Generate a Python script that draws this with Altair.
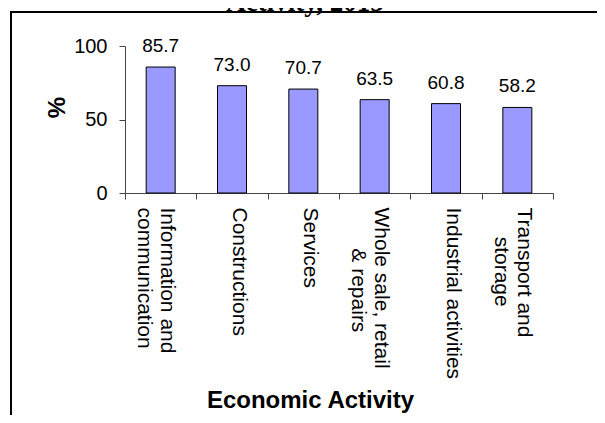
import altair as alt
import pandas as pd

NB = "\u00a0"
ZW = "\u200b"
categories = [
    "Information and\ncommunication",
    "Constructions",
    "Services",
    "Whole sale, retail\n" + ZW + NB * 7 + "& repairs",
    "Industrial activities",
    "Transport and\n" + ZW + NB * 5 + "storage",
]
values = [85.7, 73.0, 70.7, 63.5, 60.8, 58.2]
value_labels = ["85.7", "73.0", "70.7", "63.5", "60.8", "58.2"]
chart_title = ["Activity, 2015"]

df = pd.DataFrame({"activity": categories, "pct": values, "label": value_labels})
frame_df = pd.DataFrame({"frame": [0]})
title_df = pd.DataFrame({"title": chart_title})

SANS = "Liberation Sans"

x = alt.X(
    "activity:N",
    sort=None,
    scale=alt.Scale(paddingInner=0, paddingOuter=0),
    axis=alt.Axis(
        title="Economic Activity",
        labelAngle=90,
        labelAlign="left",
        labelBaseline="middle",
        labelExpr="split(datum.label, '\\n')",
        labelFont=SANS,
        labelFontSize=21,
        labelLineHeight=23,
        labelPadding=8,
        labelOffset=6,
        labelColor="black",
        labelLimit=0,
        labelOverlap=False,
        tickBand="extent",
        tickSize=6,
        tickColor="#444",
        domainColor="#444",
        titleFont=SANS,
        titleFontSize=24,
        titleFontWeight="bold",
        titleColor="black",
        titleX=185,
        titleY=214,
        titleAlign="center",
        titleBaseline="alphabetic",
    ),
)

y = alt.Y(
    "pct:Q",
    scale=alt.Scale(domain=[0, 100]),
    axis=alt.Axis(
        values=[0, 50, 100],
        grid=False,
        title="%",
        tickSize=6,
        tickColor="#444",
        domainColor="#444",
        labelPadding=12,
        labelFont=SANS,
        labelFontSize=20,
        labelColor="black",
        titleFont=SANS,
        titleFontSize=24,
        titleFontWeight="bold",
        titleColor="black",
        titleX=-68,
        titleY=61,
        titleAngle=270,
        titleAlign="center",
        titleBaseline="middle",
    ),
)

bars = alt.Chart(df).mark_bar(size=29, color="#9999FF", stroke="black", strokeWidth=1).encode(x=x, y=y)
texts = alt.Chart(df).mark_text(dy=-15, baseline="alphabetic", fontSize=19, font=SANS, color="black").encode(
    x=alt.X("activity:N", sort=None), y="pct:Q", text="label:N"
)
border = alt.Chart(frame_df).mark_rect(filled=False, stroke="black", strokeWidth=2).encode(
    x=alt.value(-114), y=alt.value(-34), x2=alt.value(490), y2=alt.value(400)
)
title = alt.Chart(title_df).mark_text(
    font="Liberation Serif", fontSize=27, fontWeight="bold", align="center", baseline="alphabetic", color="black"
).encode(x=alt.value(180), y=alt.value(-35), text="title:N")

chart = (
    alt.layer(border, bars, texts, title)
    .properties(
        width=428,
        height=147,
        autosize=alt.AutoSizeParams(type="none"),
        padding={"left": 117, "top": 38, "right": 44, "bottom": 222},
        background="white",
    )
    .configure_view(stroke=None)
)

chart.save("out.html", embed_options={"renderer": "svg", "actions": False})
